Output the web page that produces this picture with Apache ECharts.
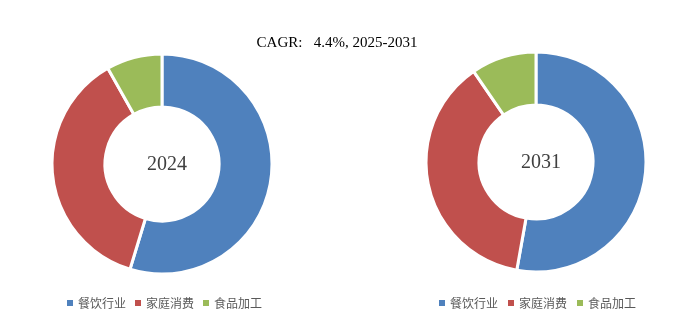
<!DOCTYPE html>
<html><head><meta charset="utf-8">
<script src="https://cdn.jsdelivr.net/npm/echarts@6/dist/echarts.min.js"></script>
<style>html,body{margin:0;padding:0;background:#fff}#c{width:697px;height:322px}</style>
</head><body><div id="c"></div>
<script>
const categories = ['餐饮行业', '家庭消费', '食品加工'];
const values2024 = [54.7, 37.1, 8.2];
const values2031 = [52.8, 37.6, 9.6];
const years = ['2024', '2031'];
const titleText = 'CAGR:   4.4%, 2025-2031';
const colors = ['#4F81BD', '#C0504D', '#9BBB59'];

const chart = echarts.init(document.getElementById('c'));
const serif = '"Liberation Serif", "DejaVu Serif", serif';
function pie(center, vals) {
  return {
    type: 'pie', center: center, radius: [57, 110], startAngle: 90, clockwise: true,
    label: { show: false }, labelLine: { show: false }, silent: true,
    itemStyle: { borderColor: '#fff', borderWidth: 3 },
    data: categories.map((c, i) => ({ name: c, value: vals[i] }))
  };
}
const legendText = { fontSize: 12, color: '#595959', fontFamily: '"Noto Sans CJK SC"' };
chart.setOption({
  animation: false,
  color: colors,
  title: [
    { text: titleText, left: 332, top: 31, textAlign: 'center',
      textStyle: { fontFamily: serif, fontSize: 15, fontWeight: 'normal', color: '#000' } },
    { text: years[0], left: 162, top: 150, textAlign: 'center',
      textStyle: { fontFamily: serif, fontSize: 20, fontWeight: 'normal', color: '#404040' } },
    { text: years[1], left: 536, top: 148, textAlign: 'center',
      textStyle: { fontFamily: serif, fontSize: 20, fontWeight: 'normal', color: '#404040' } }
  ],
  legend: [
    { data: categories, left: 62, top: 292, icon: 'rect', itemWidth: 6, itemHeight: 6, itemGap: 9,
      itemStyle: { borderWidth: 0 }, textStyle: legendText },
    { data: categories, left: 434, top: 292, icon: 'rect', itemWidth: 6, itemHeight: 6, itemGap: 10,
      itemStyle: { borderWidth: 0 }, textStyle: legendText }
  ],
  series: [pie([162, 164], values2024), pie([536, 162], values2031)]
});
</script></body></html>
